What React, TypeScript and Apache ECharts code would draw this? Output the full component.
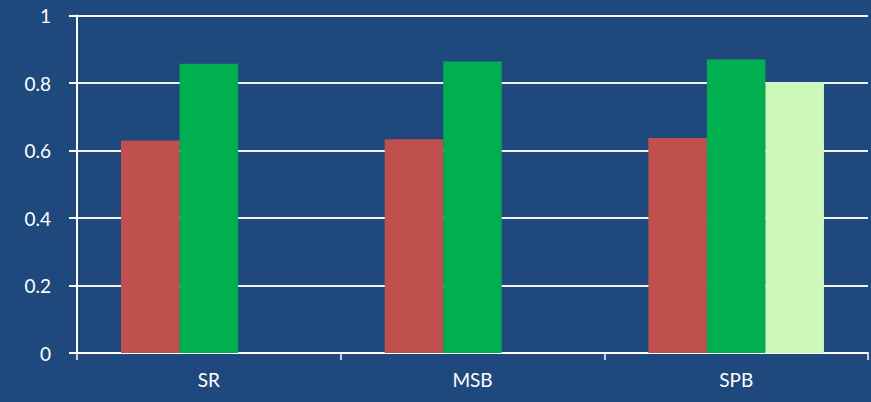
import React, { useEffect, useRef } from "react";
import * as echarts from "echarts";

const categories = ["SR", "MSB", "SPB"];
const redSeries = [0.63, 0.633, 0.637];
const greenSeries = [0.857, 0.864, 0.87];
const lightSeries: (number | null)[] = [null, null, 0.802];

const FONT = "Lato, 'Open Sans', sans-serif";

export default function App() {
  const ref = useRef<HTMLDivElement>(null);

  useEffect(() => {
    if (!ref.current) return;
    const chart = echarts.init(ref.current, null, { renderer: "svg" });
    chart.setOption({
      animation: false,
      backgroundColor: "#1F497D",
      grid: { left: 77, right: 3, top: 15.5, bottom: 49, containLabel: false },
      xAxis: {
        type: "category",
        data: categories,
        axisLine: { show: true, lineStyle: { color: "#FFFFFF", width: 2 } },
        axisTick: { show: true, length: 7, lineStyle: { color: "#FFFFFF", width: 1.5 } },
        axisLabel: { color: "#FFFFFF", fontSize: 19, fontFamily: FONT, margin: 17 },
        splitLine: { show: false },
      },
      yAxis: {
        type: "value",
        min: 0,
        max: 1,
        interval: 0.2,
        axisLine: { show: true, lineStyle: { color: "#FFFFFF", width: 2 } },
        axisTick: { show: true, length: 8, lineStyle: { color: "#FFFFFF", width: 2 } },
        axisLabel: { color: "#FFFFFF", fontSize: 19, fontFamily: FONT, margin: 26 },
        splitLine: { show: true, lineStyle: { color: "#F2F2F2", width: 2 } },
      },
      series: [
        {
          type: "bar",
          data: redSeries,
          barGap: "0%",
          barCategoryGap: "33.4%",
          itemStyle: { color: "#C0504D" },
        },
        {
          type: "bar",
          data: greenSeries,
          barGap: "0%",
          barCategoryGap: "33.4%",
          itemStyle: { color: "#00B050" },
        },
        {
          type: "bar",
          data: lightSeries,
          barGap: "0%",
          barCategoryGap: "33.4%",
          itemStyle: { color: "#CCF9BB" },
        },
      ],
    });
    return () => chart.dispose();
  }, []);

  return (
    <div
      ref={ref}
      style={{ position: "absolute", left: 0, top: 0, width: 871, height: 402 }}
    />
  );
}
